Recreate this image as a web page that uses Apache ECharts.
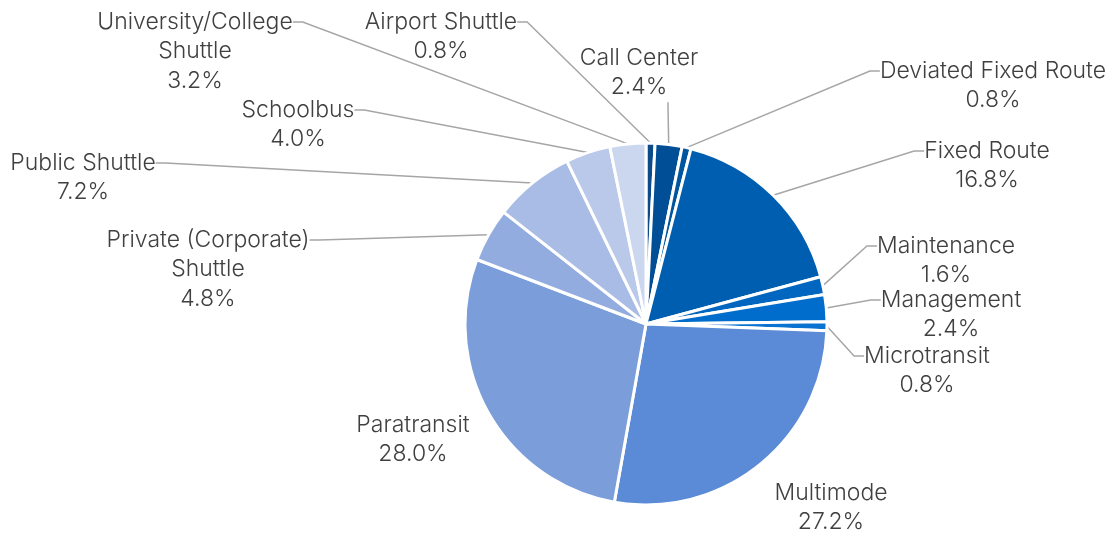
<!DOCTYPE html>
<html>
<head>
<meta charset="utf-8">
<script src="https://cdn.jsdelivr.net/npm/echarts@6/dist/echarts.min.js"></script>
<style>html,body{margin:0;padding:0;background:#fff}#c{width:1107px;height:535px}</style>
</head>
<body>
<div id="c"></div>
<script>
const categories = ["Airport Shuttle","Call Center","Deviated Fixed Route","Fixed Route","Maintenance","Management","Microtransit","Multimode","Paratransit","Private (Corporate) Shuttle","Public Shuttle","Schoolbus","University/College Shuttle"];
const shares = [0.8, 2.4, 0.8, 16.8, 1.6, 2.4, 0.8, 27.2, 28.0, 4.8, 7.2, 4.0, 3.2];
const labelLines = [["Airport Shuttle"],["Call Center"],["Deviated Fixed Route"],["Fixed Route"],["Maintenance"],["Management"],["Microtransit"],["Multimode"],["Paratransit"],["Private (Corporate)","Shuttle"],["Public Shuttle"],["Schoolbus"],["University/College","Shuttle"]];

const colors = ["#0c4a8a","#004f96","#00559f","#005eb0","#0066c0","#006ccb","#0a72d0","#5b8bd6","#7b9dd9","#93acdf","#a9bce5","#bac9ea","#cbd6ef"];
// label anchor: [centre x, first-line centre y]
const labelPos = [[441,22],[639,58],[993,71],[987,151],[946,246],[951,300],[927,356],[831,493],[413,425],[208,240],[83,163],[298,110],[195,22]];
const noLine = {"Multimode":true,"Paratransit":true};
// leader line meets the value line (shifted right by `shift` px) instead of the name
const lineToValue = {"Call Center":{shift:29}};
const LH = 29.5;
const FONT = {color:'#404040',fontFamily:'Inter',fontWeight:300,fontSize:23,lineHeight:LH,align:'center'};

function pct(i){ return shares[i].toFixed(1)+'%'; }
function allLines(i){ return labelLines[i].concat([pct(i)]); }
function headText(i){
  const L = allLines(i);
  return lineToValue[categories[i]] ? L[L.length-1] : L[0];
}
function headRow(i){ return lineToValue[categories[i]] ? allLines(i).length-1 : 0; }
function headShift(i){ const o = lineToValue[categories[i]]; return o ? o.shift : 0; }
function tailText(i){
  const L = allLines(i);
  return lineToValue[categories[i]] ? L.slice(0,-1).join('\n') : L.slice(1).join('\n');
}
function tailRow(i){ return lineToValue[categories[i]] ? 0 : 1; }

const base = {
  type:'pie',
  center:[646,324],
  radius:181,
  startAngle:90,
  clockwise:true,
  avoidLabelOverlap:false
};

const chart = echarts.init(document.getElementById('c'), null, {renderer:'canvas'});
chart.setOption({
  animation:false,
  series:[
    Object.assign({}, base, {
      itemStyle:{borderColor:'#fff',borderWidth:3},
      label:Object.assign({show:true, formatter:p=>headText(p.dataIndex)}, FONT),
      labelLine:{show:true,lineStyle:{color:'#a6a6a6',width:1.5},length:10,length2:10},
      labelLayout:function(p){
        const i = p.dataIndex, pos = labelPos[i];
        return {x:pos[0]+headShift(i), y:pos[1]-LH/2+headRow(i)*LH, align:'center', verticalAlign:'top'};
      },
      data:categories.map((c,i)=>({
        name:c,value:shares[i],
        itemStyle:{color:colors[i]},
        label:{padding:[0, 2*headShift(i), 0, 0]},
        labelLine:{show:!noLine[c], length2: lineToValue[c] ? 4 : 10}
      }))
    }),
    Object.assign({}, base, {
      silent:true,
      z:1,
      itemStyle:{color:'rgba(0,0,0,0)',borderWidth:0},
      label:Object.assign({show:true, formatter:p=>tailText(p.dataIndex)}, FONT),
      labelLine:{show:false},
      labelLayout:function(p){
        const i = p.dataIndex, pos = labelPos[i];
        return {x:pos[0], y:pos[1]-LH/2+tailRow(i)*LH, align:'center', verticalAlign:'top'};
      },
      data:categories.map((c,i)=>({name:c,value:shares[i]}))
    })
  ]
});
</script>
</body>
</html>
